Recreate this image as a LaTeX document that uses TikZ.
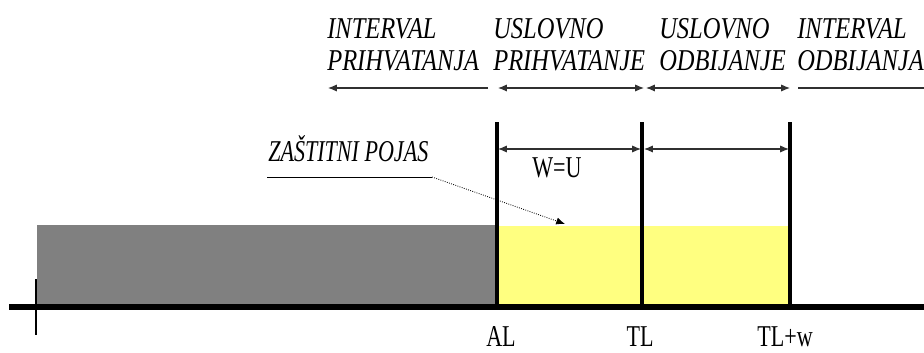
\documentclass[tikz,border=0pt]{standalone}
\usepackage{fontspec}
\setmainfont{Liberation Serif}
\newfontfamily\zonefont[FakeStretch=0.81]{Liberation Serif}
\newfontfamily\notefont[FakeStretch=0.73]{Liberation Serif}
\usetikzlibrary{arrows.meta,positioning}
\definecolor{bargray}{HTML}{808080}
\definecolor{bandyellow}{HTML}{FFFF80}
\definecolor{arrowgray}{HTML}{303030}

\begin{document}
\begin{tikzpicture}[
    x=0.025cm,y=-0.025cm,
    zone/.style={font=\zonefont\fontsize{21.5}{22.7}\selectfont\itshape,
                 align=left,anchor=north west,inner sep=0pt},
    note/.style={font=\notefont\fontsize{21.5}{22.7}\selectfont,inner sep=0pt},
    limline/.style={line width=2.2pt,black},
    span/.style={{Latex[length=2.2mm,width=1.8mm]}-{Latex[length=2.2mm,width=1.8mm]},
                 line width=.8pt,arrowgray},
    leftarr/.style={-{Latex[length=2.2mm,width=1.8mm]},line width=.8pt,arrowgray},
    pointer/.style={-{Latex[length=2.2mm,width=1.8mm]},densely dotted,line width=.6pt}
  ]
    \useasboundingbox (0,0) rectangle (924,353);

    % limits on the axis
    \coordinate (al)  at (497,305);
    \coordinate (tl)  at (642,305);
    \coordinate (tlw) at (790,305);
    \coordinate (altop)  at (497,122);
    \coordinate (tltop)  at (642,122);
    \coordinate (tlwtop) at (790,122);

    \fill[bargray] (37,225) rectangle (al);
    \fill[bandyellow] (al) rectangle (790,226);

    \draw[limline] (al) -- (altop);
    \draw[limline] (tl) -- (tltop);
    \draw[limline] (tlw) -- (tlwtop);

    \draw[line width=4.3pt] (9,307) -- (924,307);
    \draw[line width=2pt] (36,279) -- (36,335);

    % width of the band
    \coordinate (w0) at (498,149);
    \coordinate (w1) at (641,149);
    \coordinate (w2) at (644,149);
    \coordinate (w3) at (789,149);
    \draw[span] (w0) -- (w1);
    \draw[span] (w2) -- (w3);
    \node[note,anchor=base] (wu) at (557,178) {W=U};

    % intervals on top
    \node[zone] (iprih) at (327,18) {INTERVAL\\PRIHVATANJA};
    \node[zone] (uprih) at (493,18) {USLOVNO\\PRIHVATANJE};
    \node[zone] (uodb)  at (659,18) {USLOVNO\\ODBIJANJE};
    \node[zone] (iodb)  at (797,18) {INTERVAL\\ODBIJANJA};

    \coordinate (t0) at (488,88);
    \coordinate (t1) at (328,88);
    \coordinate (t2) at (498,88);
    \coordinate (t3) at (644,88);
    \coordinate (t4) at (646,88);
    \coordinate (t5) at (790,88);
    \coordinate (t6) at (798,88);
    \coordinate (t7) at (924,88);
    \draw[leftarr] (t0) -- (t1);
    \draw[span] (t2) -- (t3);
    \draw[span] (t4) -- (t5);
    \draw[line width=.8pt,arrowgray] (t6) -- (t7);

    % guard band
    \node[note,font=\notefont\fontsize{21.5}{22.7}\selectfont\itshape,anchor=base west]
      (pojas) at (268,162) {ZAŠTITNI POJAS};
    \coordinate (u0) at (267,177);
    \coordinate (u1) at (432,177);
    \coordinate (ptip) at (565,224);
    \draw[line width=.6pt] (u0) -- (u1);
    \draw[pointer] (u1) -- (ptip);

    % axis labels
    \node[note,anchor=base] (lal)  at (501,346) {AL};
    \node[note,anchor=base] (ltl)  at (640,346) {TL};
    \node[note,anchor=base] (ltlw) at (785,346) {TL+w};
\end{tikzpicture}
\end{document}
